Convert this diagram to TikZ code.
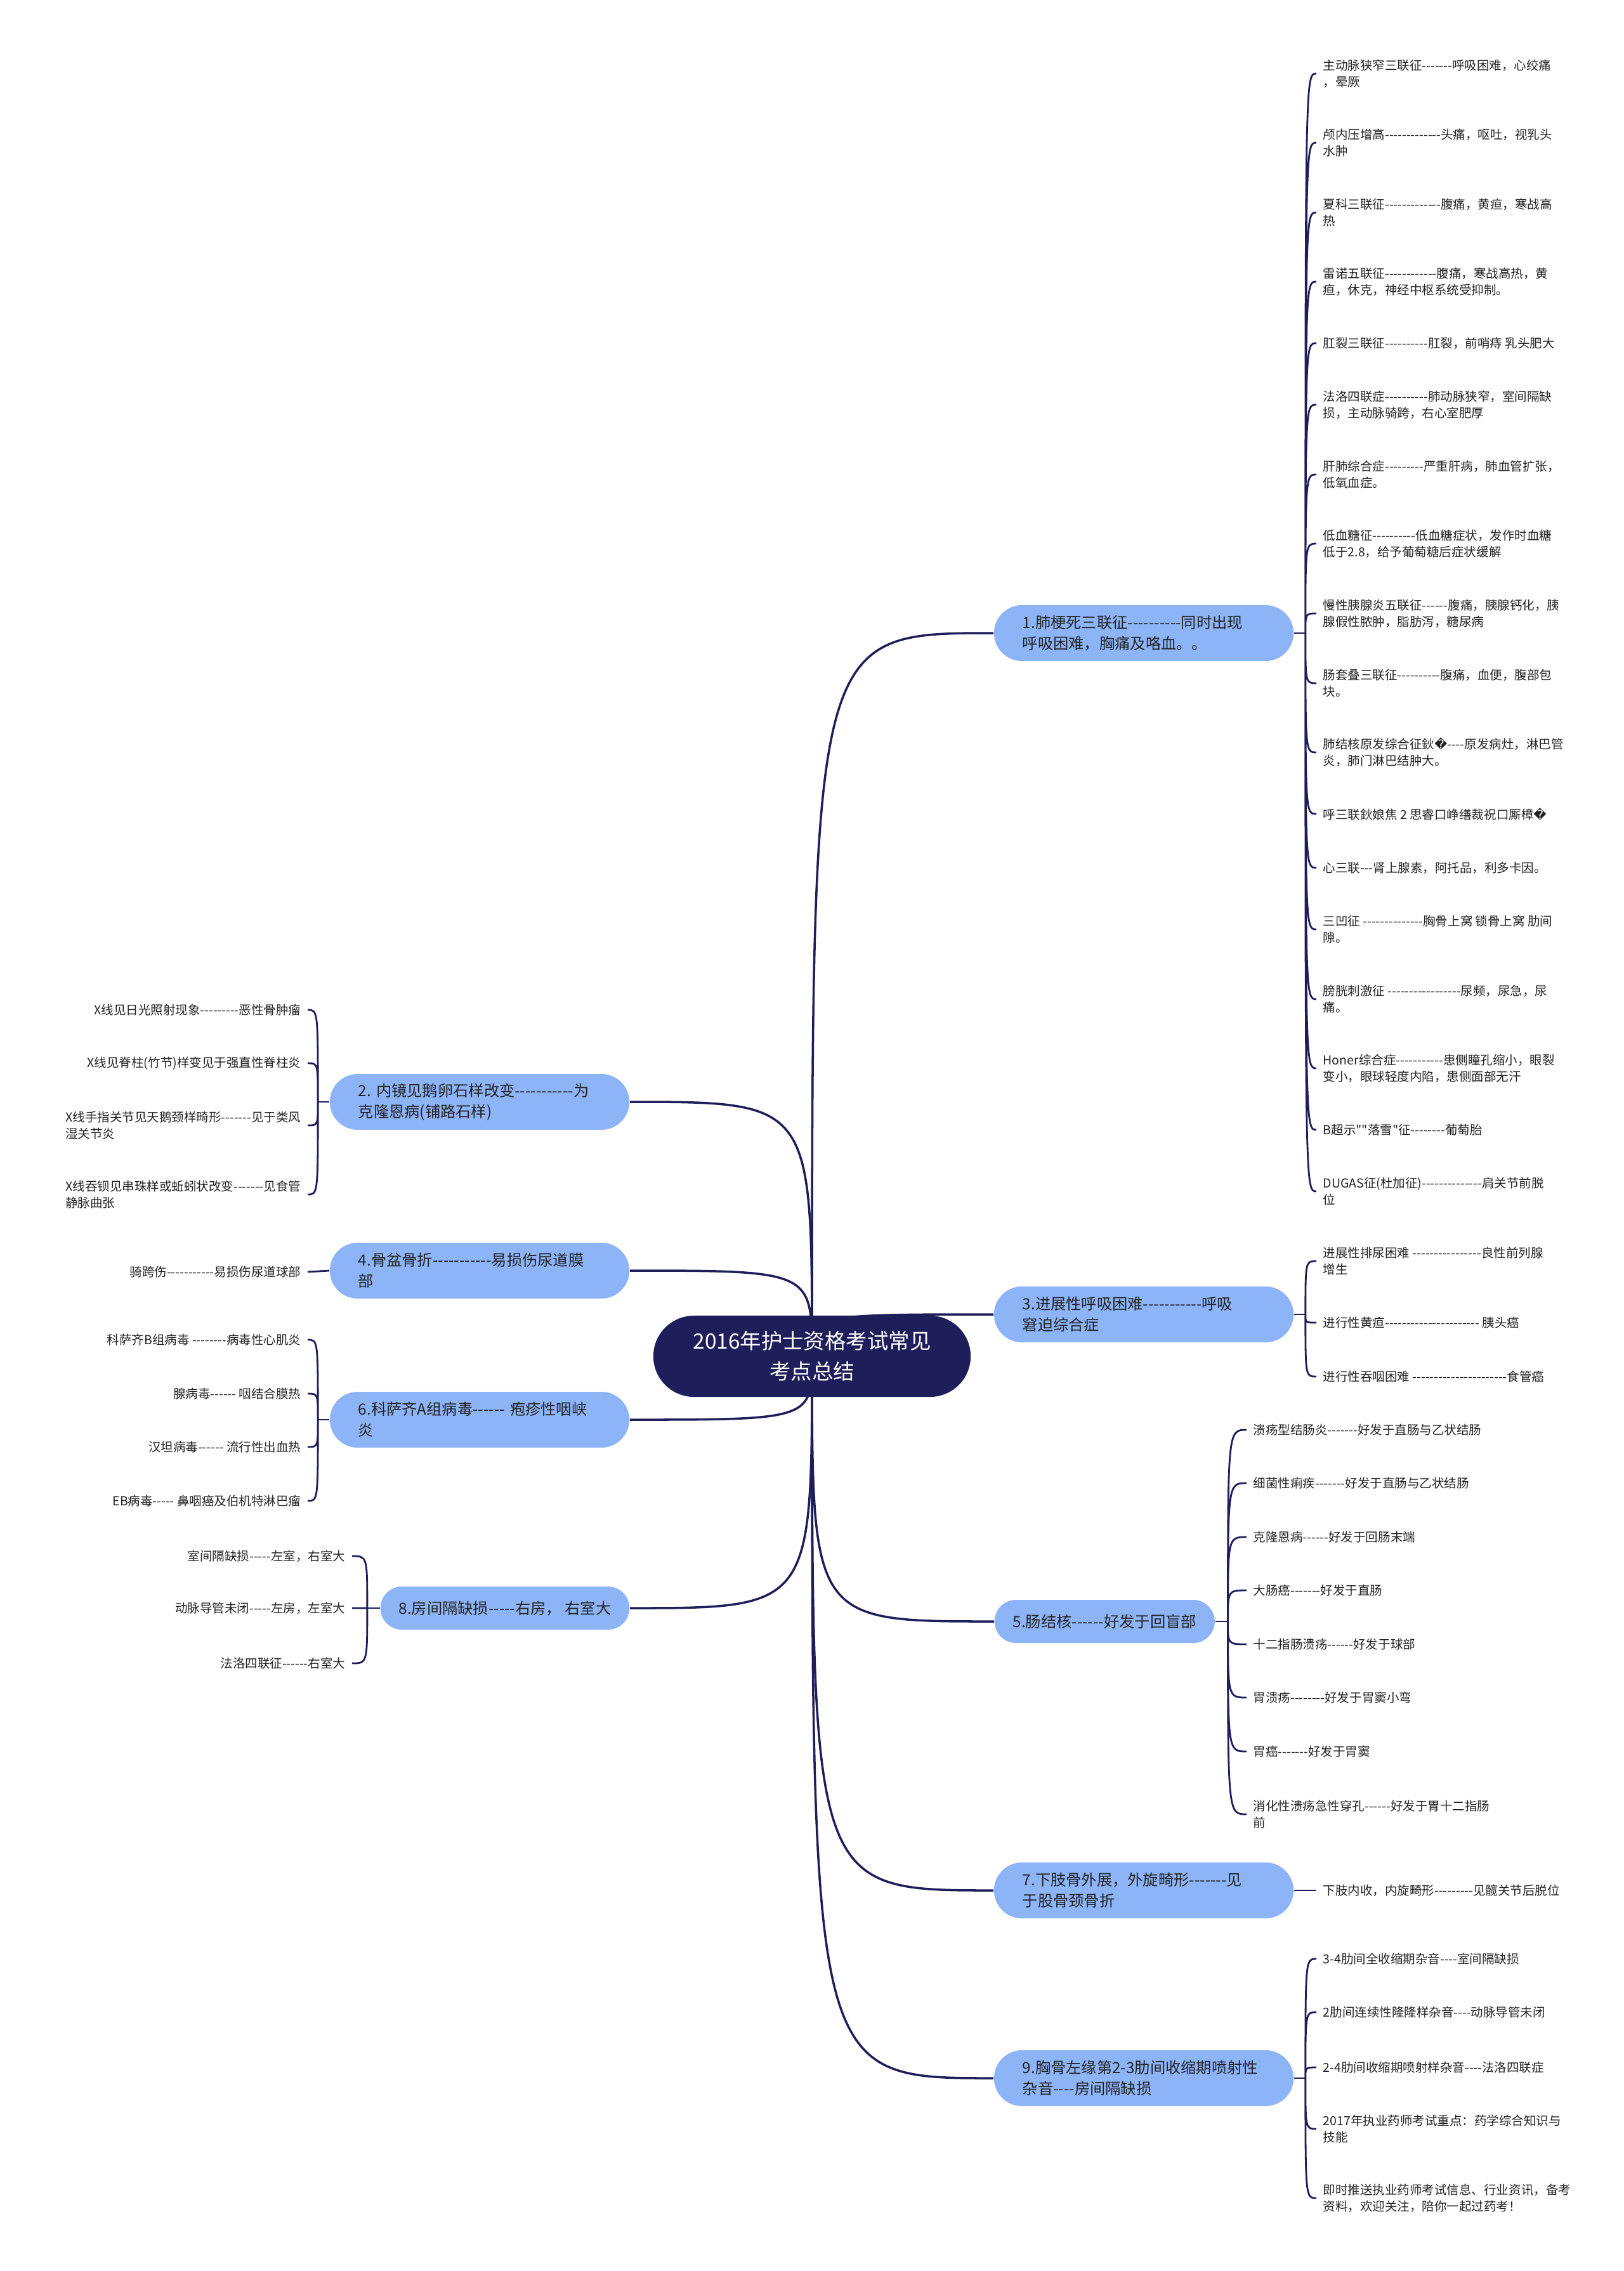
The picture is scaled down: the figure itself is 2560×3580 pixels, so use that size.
\documentclass[tikz,border=0pt]{standalone}
\usepackage{fontspec}
\setmainfont{Noto Sans CJK SC}[Ligatures=TeXOff]
\newfontfamily\repfont{DejaVu Sans}
\usetikzlibrary{positioning, backgrounds}
\definecolor{navy}{HTML}{1E1F5A}
\definecolor{skyblue}{HTML}{8CB4F7}
\definecolor{ink}{HTML}{222222}
\newcommand{\badch}{{\repfont\symbol{"FFFD}}}
\tikzset{
  topic/.style={rectangle, rounded corners=0.64cm, fill=navy, text=white,
    minimum width=5cm, minimum height=1.28cm, align=center,
    font=\fontsize{9.5pt}{13.7pt}\selectfont},
  branch/.style={rectangle, rounded corners=0.44cm, fill=skyblue, text=ink,
    text width=3.82cm, inner xsep=0.45cm, minimum height=0.88cm, align=left,
    font=\fontsize{6.9pt}{9.4pt}\selectfont},
  branchs/.style={rectangle, rounded corners=0.34cm, fill=skyblue, text=ink,
    inner xsep=0.29cm, minimum height=0.68cm,
    font=\fontsize{6.9pt}{9.4pt}\selectfont},
  leaf/.style={anchor=west, inner xsep=0.1cm, inner ysep=0.04cm, align=left,
    text=ink, font=\fontsize{5.55pt}{7.4pt}\selectfont},
  leafl/.style={leaf, anchor=east},
  link/.style={draw=navy, line width=1pt},
  twig/.style={draw=navy, line width=0.8pt},
}
\begin{document}
\begin{tikzpicture}[x=0.01cm, y=-0.01cm]
\useasboundingbox (0,0) rectangle (2560,3580);
\node[topic] (root) at (1280,2138) {2016年护士资格考试常见\\考点总结};

\node[branch] (b1) at (1803,998) {1.肺梗死三联征----------同时出现\\呼吸困难，胸痛及咯血。。};
\node[branch] (b3) at (1803,2072) {3.进展性呼吸困难-----------呼吸\\窘迫综合症};
\node[branchs, anchor=west] (b5) at (1567,2556) {5.肠结核------好发于回盲部};
\node[branch] (b7) at (1803,2980) {7.下肢骨外展，外旋畸形-------见\\于股骨颈骨折};
\node[branch] (b9) at (1803,3276) {9.胸骨左缘第2-3肋间收缩期喷射性\\杂音----房间隔缺损};
\node[branch] (b2) at (756,1737) {2.~内镜见鹅卵石样改变-----------为\\克隆恩病(铺路石样)};
\node[branch] (b4) at (756,2003) {4.骨盆骨折-----------易损伤尿道膜\\部};
\node[branch] (b6) at (756,2238) {6.科萨齐A组病毒------~疱疹性咽峡\\炎};
\node[branchs, anchor=east] (b8) at (993,2535) {8.房间隔缺损-----右房，~右室大};

\node[leaf] (a1) at (2075,116) {主动脉狭窄三联征-------呼吸困难，心绞痛\\，晕厥};
\node[leaf] (a2) at (2075,225) {颅内压增高-------------头痛，呕吐，视乳头\\水肿};
\node[leaf] (a3) at (2075,335) {夏科三联征-------------腹痛，黄疸，寒战高\\热};
\node[leaf] (a4) at (2075,444) {雷诺五联征------------腹痛，寒战高热，黄\\疸，休克，神经中枢系统受抑制。};
\node[leaf] (a5) at (2075,541) {肛裂三联征----------肛裂，前哨痔 乳头肥大};
\node[leaf] (a6) at (2075,638) {法洛四联症----------肺动脉狭窄，室间隔缺\\损，主动脉骑跨，右心室肥厚};
\node[leaf] (a7) at (2075,748) {肝肺综合症---------严重肝病，肺血管扩张，\\低氧血症。};
\node[leaf] (a8) at (2075,857) {低血糖征----------低血糖症状，发作时血糖\\低于2.8，给予葡萄糖后症状缓解};
\node[leaf] (a9) at (2075,967) {慢性胰腺炎五联征------腹痛，胰腺钙化，胰\\腺假性脓肿，脂肪泻，糖尿病};
\node[leaf] (a10) at (2075,1077) {肠套叠三联征----------腹痛，血便，腹部包\\块。};
\node[leaf] (a11) at (2075,1186) {肺结核原发综合征鈥\badch----原发病灶，淋巴管\\炎，肺门淋巴结肿大。};
\node[leaf] (a12) at (2075,1283) {呼三联鈥娘焦 2 思睿口峥缮裁祝口厮樟\badch};
\node[leaf] (a13) at (2075,1368) {心三联---肾上腺素，阿托品，利多卡因。};
\node[leaf] (a14) at (2075,1465) {三凹征 --------------胸骨上窝 锁骨上窝 肋间\\隙。};
\node[leaf] (a15) at (2075,1575) {膀胱刺激征 -----------------尿频，尿急，尿\\痛。};
\node[leaf] (a16) at (2075,1684) {Honer综合症-----------患侧瞳孔缩小，眼裂\\变小，眼球轻度内陷，患侧面部无汗};
\node[leaf] (a17) at (2075,1781) {B超示""落雪"征--------葡萄胎};
\node[leaf] (a18) at (2075,1878) {DUGAS征(杜加征)--------------肩关节前脱\\位};

\node[leaf] (c1) at (2075,1988) {进展性排尿困难 ----------------良性前列腺\\增生};
\node[leaf] (c2) at (2075,2085) {进行性黄疸---------------------- 胰头癌};
\node[leaf] (c3) at (2075,2170) {进行性吞咽困难 ----------------------食管癌};

\node[leaf] (e1) at (1965,2254) {溃疡型结肠炎-------好发于直肠与乙状结肠};
\node[leaf] (e2) at (1965,2338) {细菌性痢疾-------好发于直肠与乙状结肠};
\node[leaf] (e3) at (1965,2423) {克隆恩病------好发于回肠末端};
\node[leaf] (e4) at (1965,2507) {大肠癌-------好发于直肠};
\node[leaf] (e5) at (1965,2592) {十二指肠溃疡------好发于球部};
\node[leaf] (e6) at (1965,2676) {胃溃疡--------好发于胃窦小弯};
\node[leaf] (e7) at (1965,2761) {胃癌-------好发于胃窦};
\node[leaf] (e8) at (1965,2860) {消化性溃疡急性穿孔------好发于胃十二指肠\\前};

\node[leaf] (f1) at (2075,2980) {下肢内收，内旋畸形---------见髋关节后脱位};

\node[leaf] (g1) at (2075,3088) {3-4肋间全收缩期杂音----室间隔缺损};
\node[leaf] (g2) at (2075,3172) {2肋间连续性隆隆样杂音----动脉导管未闭};
\node[leaf] (g3) at (2075,3259) {2-4肋间收缩期喷射样杂音----法洛四联症};
\node[leaf] (g4) at (2075,3356) {2017年执业药师考试重点：药学综合知识与\\技能};
\node[leaf] (g5) at (2075,3465) {即时推送执业药师考试信息、行业资讯，备考\\资料，欢迎关注，陪你一起过药考！};

\node[leafl] (d1) at (485,1592) {X线见日光照射现象---------恶性骨肿瘤};
\node[leafl] (d2) at (485,1676) {X线见脊柱(竹节)样变见于强直性脊柱炎};
\node[leafl] (d3) at (485,1774) {X线手指关节见天鹅颈样畸形-------见于类风\\湿关节炎};
\node[leafl] (d4) at (485,1883) {X线吞钡见串珠样或蚯蚓状改变-------见食管\\静脉曲张};

\node[leafl] (h1) at (485,2005) {骑跨伤-----------易损伤尿道球部};

\node[leafl] (k1) at (485,2112) {科萨齐B组病毒 --------病毒性心肌炎};
\node[leafl] (k2) at (485,2197) {腺病毒------ 咽结合膜热};
\node[leafl] (k3) at (485,2281) {汉坦病毒------ 流行性出血热};
\node[leafl] (k4) at (485,2366) {EB病毒----- 鼻咽癌及伯机特淋巴瘤};

\node[leafl] (m1) at (555,2453) {室间隔缺损-----左室，右室大};
\node[leafl] (m2) at (555,2535) {动脉导管未闭-----左房，左室大};
\node[leafl] (m3) at (555,2622) {法洛四联征------右室大};

\coordinate (s1) at ([xshift=0.18cm]b1.east);
\coordinate (s3) at ([xshift=0.18cm]b3.east);
\coordinate (s5) at ([xshift=0.2cm]b5.east);
\coordinate (s9) at ([xshift=0.18cm]b9.east);
\coordinate (s2) at ([xshift=-0.18cm]b2.west);
\coordinate (s6) at ([xshift=-0.18cm]b6.west);
\coordinate (s8) at ([xshift=-0.2cm]b8.west);

\begin{scope}[on background layer]
\draw[link] (root.center) .. controls (root.center |- b1.west) .. (b1.west);
\draw[link] (root.center) .. controls (root.center |- b3.west) .. (b3.west);
\draw[link] (root.center) .. controls (root.center |- b5.west) .. (b5.west);
\draw[link] (root.center) .. controls (root.center |- b7.west) .. (b7.west);
\draw[link] (root.center) .. controls (root.center |- b9.west) .. (b9.west);
\draw[link] (root.center) .. controls (root.center |- b2.east) .. (b2.east);
\draw[link] (root.center) .. controls (root.center |- b4.east) .. (b4.east);
\draw[link] (root.center) .. controls (root.center |- b6.east) .. (b6.east);
\draw[link] (root.center) .. controls (root.center |- b8.east) .. (b8.east);
\end{scope}

\draw[twig] (b1.east) -- (s1);
\draw[twig] (s1) .. controls (s1 |- a1.west) .. (a1.west)
  (s1) .. controls (s1 |- a2.west) .. (a2.west)
  (s1) .. controls (s1 |- a3.west) .. (a3.west)
  (s1) .. controls (s1 |- a4.west) .. (a4.west)
  (s1) .. controls (s1 |- a5.west) .. (a5.west)
  (s1) .. controls (s1 |- a6.west) .. (a6.west)
  (s1) .. controls (s1 |- a7.west) .. (a7.west)
  (s1) .. controls (s1 |- a8.west) .. (a8.west)
  (s1) .. controls (s1 |- a9.west) .. (a9.west)
  (s1) .. controls (s1 |- a10.west) .. (a10.west)
  (s1) .. controls (s1 |- a11.west) .. (a11.west)
  (s1) .. controls (s1 |- a12.west) .. (a12.west)
  (s1) .. controls (s1 |- a13.west) .. (a13.west)
  (s1) .. controls (s1 |- a14.west) .. (a14.west)
  (s1) .. controls (s1 |- a15.west) .. (a15.west)
  (s1) .. controls (s1 |- a16.west) .. (a16.west)
  (s1) .. controls (s1 |- a17.west) .. (a17.west)
  (s1) .. controls (s1 |- a18.west) .. (a18.west);
\draw[twig] (b3.east) -- (s3);
\draw[twig] (s3) .. controls (s3 |- c1.west) .. (c1.west)
  (s3) .. controls (s3 |- c2.west) .. (c2.west)
  (s3) .. controls (s3 |- c3.west) .. (c3.west);
\draw[twig] (b5.east) -- (s5);
\draw[twig] (s5) .. controls (s5 |- e1.west) .. (e1.west)
  (s5) .. controls (s5 |- e2.west) .. (e2.west)
  (s5) .. controls (s5 |- e3.west) .. (e3.west)
  (s5) .. controls (s5 |- e4.west) .. (e4.west)
  (s5) .. controls (s5 |- e5.west) .. (e5.west)
  (s5) .. controls (s5 |- e6.west) .. (e6.west)
  (s5) .. controls (s5 |- e7.west) .. (e7.west)
  (s5) .. controls (s5 |- e8.west) .. (e8.west);
\draw[twig] (b7.east) -- (f1.west);
\draw[twig] (b9.east) -- (s9);
\draw[twig] (s9) .. controls (s9 |- g1.west) .. (g1.west)
  (s9) .. controls (s9 |- g2.west) .. (g2.west)
  (s9) .. controls (s9 |- g3.west) .. (g3.west)
  (s9) .. controls (s9 |- g4.west) .. (g4.west)
  (s9) .. controls (s9 |- g5.west) .. (g5.west);
\draw[twig] (b2.west) -- (s2);
\draw[twig] (s2) .. controls (s2 |- d1.east) .. (d1.east)
  (s2) .. controls (s2 |- d2.east) .. (d2.east)
  (s2) .. controls (s2 |- d3.east) .. (d3.east)
  (s2) .. controls (s2 |- d4.east) .. (d4.east);
\draw[twig] (b4.west) -- (h1.east);
\draw[twig] (b6.west) -- (s6);
\draw[twig] (s6) .. controls (s6 |- k1.east) .. (k1.east)
  (s6) .. controls (s6 |- k2.east) .. (k2.east)
  (s6) .. controls (s6 |- k3.east) .. (k3.east)
  (s6) .. controls (s6 |- k4.east) .. (k4.east);
\draw[twig] (b8.west) -- (s8);
\draw[twig] (s8) .. controls (s8 |- m1.east) .. (m1.east)
  (s8) .. controls (s8 |- m2.east) .. (m2.east)
  (s8) .. controls (s8 |- m3.east) .. (m3.east);
\end{tikzpicture}
\end{document}
